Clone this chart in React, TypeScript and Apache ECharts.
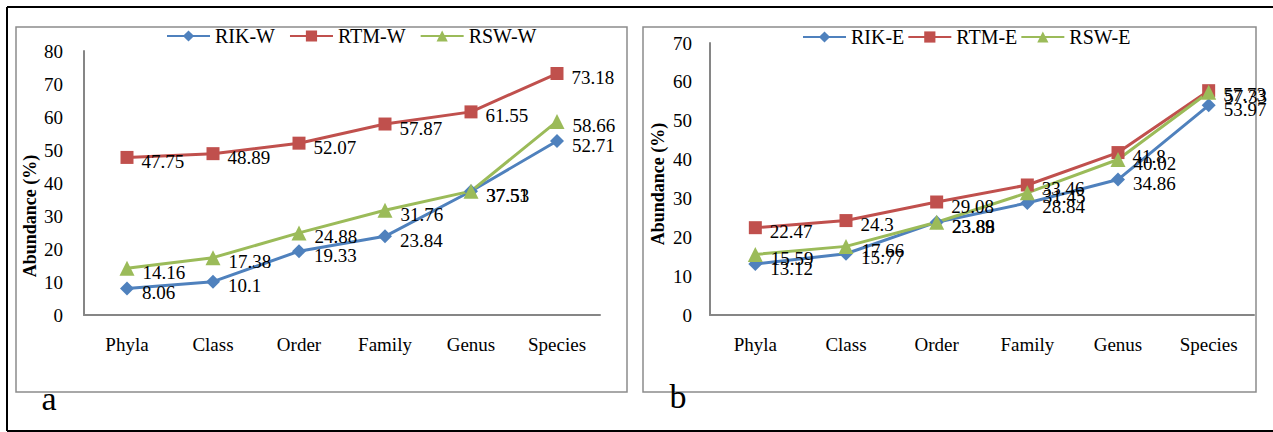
import React, { useEffect, useRef } from "react";
import * as echarts from "echarts";

const categories = ["Phyla", "Class", "Order", "Family", "Genus", "Species"];

const namesW = ["RIK-W", "RTM-W", "RSW-W"];
const rikW = [8.06, 10.1, 19.33, 23.84, 37.51, 52.71];
const rtmW = [47.75, 48.89, 52.07, 57.87, 61.55, 73.18];
const rswW = [14.16, 17.38, 24.88, 31.76, 37.53, 58.66];

const namesE = ["RIK-E", "RTM-E", "RSW-E"];
const rikE = [13.12, 15.77, 23.89, 28.84, 34.86, 53.97];
const rtmE = [22.47, 24.3, 29.08, 33.46, 41.8, 57.73];
const rswE = [15.59, 17.66, 23.88, 31.45, 40.02, 57.33];

const yMaxW = 80;
const yMaxE = 70;
const yStep = 10;
const yTitle = "Abundance (%)";
const panelLetters = ["a", "b"];

const colors = ["#4F81BD", "#C0504D", "#9BBB59"];
const symbols = ["diamond", "rect", "triangle"];
const symbolSizes = [14, 13, 15];
const FONT = "Liberation Serif";

function makeSeries(name: string, data: number[], i: number, axisIndex: number) {
  return {
    type: "line",
    name,
    data,
    xAxisIndex: axisIndex,
    yAxisIndex: axisIndex,
    symbol: symbols[i],
    symbolSize: symbolSizes[i],
    showAllSymbol: true,
    lineStyle: { color: colors[i], width: 3 },
    itemStyle: { color: colors[i] },
    label: {
      show: true,
      position: "right",
      distance: 8,
      offset: [0, 4],
      color: "#000",
      fontFamily: FONT,
      fontSize: 19,
    },
    emphasis: { disabled: true },
  };
}

export default function App() {
  const ref = useRef<HTMLDivElement>(null);
  useEffect(() => {
    if (!ref.current) return;
    const chart = echarts.init(ref.current, undefined, { renderer: "svg" });
    const axisLine = { show: true, lineStyle: { color: "#868686", width: 2 } };
    const xAxisCommon = {
      type: "category",
      data: categories,
      boundaryGap: true,
      axisLine,
      axisTick: { show: false },
      splitLine: { show: false },
      axisLabel: { color: "#000", fontFamily: FONT, fontSize: 19, margin: 20 },
    };
    const yAxisCommon = {
      type: "value",
      min: 0,
      interval: yStep,
      axisLine,
      axisTick: { show: false },
      splitLine: { show: false },
    };
    const legendCommon = {
      itemWidth: 43,
      itemHeight: 14,
      itemGap: 14,
      textStyle: { color: "#000", fontFamily: FONT, fontSize: 20 },
    };
    const titleStyle = {
      text: yTitle,
      fontFamily: FONT,
      fontSize: 18,
      fontWeight: "bold",
      fill: "#000",
      align: "center",
      verticalAlign: "middle",
    };
    chart.setOption({
      animation: false,
      backgroundColor: "#fff",
      grid: [
        { left: 84, top: 51, width: 516, height: 264 },
        { left: 710, top: 43, width: 544, height: 272 },
      ],
      xAxis: [
        { ...xAxisCommon, gridIndex: 0 },
        { ...xAxisCommon, gridIndex: 1 },
      ],
      yAxis: [
        {
          ...yAxisCommon,
          gridIndex: 0,
          max: yMaxW,
          axisLabel: { color: "#000", fontFamily: FONT, fontSize: 19, margin: 21 },
        },
        {
          ...yAxisCommon,
          gridIndex: 1,
          max: yMaxE,
          axisLabel: { color: "#000", fontFamily: FONT, fontSize: 19, margin: 18 },
        },
      ],
      legend: [
        { ...legendCommon, data: namesW, left: 161, top: 21 },
        { ...legendCommon, data: namesE, left: 797, top: 22, itemGap: 3 },
      ],
      series: [
        makeSeries(namesW[0], rikW, 0, 0),
        makeSeries(namesW[1], rtmW, 1, 0),
        makeSeries(namesW[2], rswW, 2, 0),
        makeSeries(namesE[0], rikE, 0, 1),
        makeSeries(namesE[1], rtmE, 1, 1),
        makeSeries(namesE[2], rswE, 2, 1),
      ],
      graphic: [
        { type: "line", shape: { x1: 7, y1: 7, x2: 1273, y2: 7 }, style: { stroke: "#000", lineWidth: 2 }, silent: true },
        { type: "line", shape: { x1: 7, y1: 7, x2: 7, y2: 431 }, style: { stroke: "#000", lineWidth: 2 }, silent: true },
        { type: "line", shape: { x1: 7, y1: 431, x2: 1273, y2: 431 }, style: { stroke: "#000", lineWidth: 2 }, silent: true },
        { type: "rect", shape: { x: 16, y: 27, width: 611, height: 365 }, style: { fill: "none", stroke: "#8C8C8C", lineWidth: 1.5 }, silent: true, z: -1 },
        { type: "rect", shape: { x: 643, y: 27, width: 613, height: 365 }, style: { fill: "none", stroke: "#8C8C8C", lineWidth: 1.5 }, silent: true, z: -1 },
        { type: "text", x: 30, y: 216, rotation: Math.PI / 2, style: titleStyle },
        { type: "text", x: 658, y: 184, rotation: Math.PI / 2, style: titleStyle },
        {
          type: "text", x: 49, y: 398,
          style: { text: panelLetters[0], fontFamily: FONT, fontSize: 34, fill: "#000", align: "center", verticalAlign: "middle" },
        },
        {
          type: "text", x: 678, y: 396,
          style: { text: panelLetters[1], fontFamily: FONT, fontSize: 34, fill: "#000", align: "center", verticalAlign: "middle" },
        },
      ],
    });
    return () => chart.dispose();
  }, []);
  return (
    <div
      ref={ref}
      style={{ position: "fixed", left: 0, top: 0, width: 1273, height: 432 }}
    />
  );
}
